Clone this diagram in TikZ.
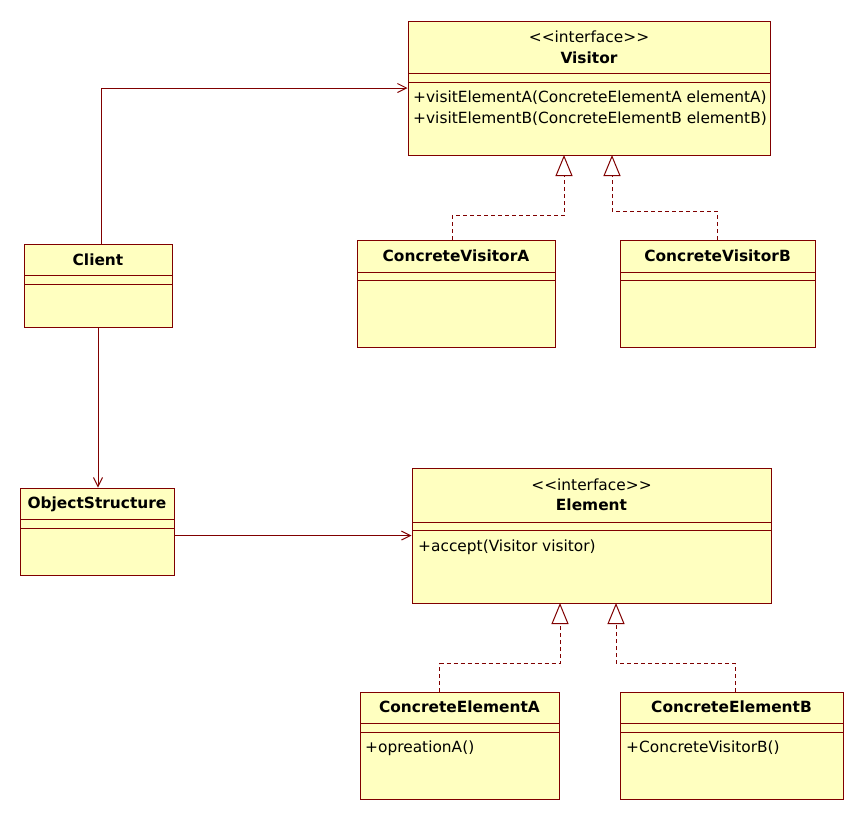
\documentclass[tikz,border=0pt]{standalone}
\usepackage{fontspec}
\setmainfont{DejaVu Sans}
\usetikzlibrary{arrows.meta}
\definecolor{umlred}{RGB}{128,0,0}
\definecolor{umlfill}{RGB}{255,255,192}
\newcommand{\stereo}[1]{\mbox{<}\mbox{<}#1\mbox{>}\mbox{>}}

\begin{document}
\begin{tikzpicture}[x=1pt, y=-1pt,
	every node/.style={font=\fontsize{15.4}{18}\selectfont, inner sep=0pt},
	cls/.style={draw=umlred, fill=umlfill, line width=1pt},
	sep/.style={umlred, line width=1pt},
	assoc/.style={umlred, line width=1pt, -{Straight Barb[length=9pt, width=9pt]}},
	realize/.style={umlred, line width=1pt, dash pattern=on 4pt off 3pt,
		-{Triangle[length=21pt, width=17pt, fill=white]}}]
	\fill [white] (0,0) rectangle (864,820);
	\useasboundingbox (0,0) rectangle (864,820);

	% visitor side
	\node [cls, minimum width=362, minimum height=134] (visitor) at (589,88) {};
	\node (visitorst) at (589,37) {\stereo{interface}};
	\node (visitorname) at (589,58) {\textbf{Visitor}};
	\draw [sep] (408,73) -- (770,73);
	\draw [sep] (408,82) -- (770,82);
	\node [anchor=west] (visitA) at (413,98) {+visitElementA(ConcreteElementA elementA)};
	\node [anchor=west] (visitB) at (413,119) {+visitElementB(ConcreteElementB elementB)};

	\node [cls, minimum width=198, minimum height=107] (cva) at (456,293.5) {};
	\node (cvaname) at (456,256) {\textbf{ConcreteVisitorA}};
	\draw [sep] (357,272) -- (555,272);
	\draw [sep] (357,280) -- (555,280);

	\node [cls, minimum width=195, minimum height=107] (cvb) at (717.5,293.5) {};
	\node (cvbname) at (717.5,256) {\textbf{ConcreteVisitorB}};
	\draw [sep] (620,272) -- (815,272);
	\draw [sep] (620,280) -- (815,280);

	% client and object structure
	\node [cls, minimum width=148, minimum height=83] (client) at (98,285.5) {};
	\node (clientname) at (98,260) {\textbf{Client}};
	\draw [sep] (24,275) -- (172,275);
	\draw [sep] (24,284) -- (172,284);

	\node [cls, minimum width=154, minimum height=87] (objstruct) at (97,531.5) {};
	\node (objstructname) at (97,504) {\textbf{ObjectStructure}};
	\draw [sep] (20,519) -- (174,519);
	\draw [sep] (20,528) -- (174,528);

	% element side
	\node [cls, minimum width=359, minimum height=135] (element) at (591.5,535.5) {};
	\node (elementst) at (591.5,485) {\stereo{interface}};
	\node (elementname) at (591.5,505) {\textbf{Element}};
	\draw [sep] (412,522) -- (771,522);
	\draw [sep] (412,530) -- (771,530);
	\node [anchor=west] (accept) at (418,547) {+accept(Visitor visitor)};

	\node [cls, minimum width=199, minimum height=107] (cea) at (459.5,745.5) {};
	\node (ceaname) at (459.5,707) {\textbf{ConcreteElementA}};
	\draw [sep] (360,723) -- (559,723);
	\draw [sep] (360,732) -- (559,732);
	\node [anchor=west] (opA) at (365,748) {+opreationA()};

	\node [cls, minimum width=223, minimum height=107] (ceb) at (731.5,745.5) {};
	\node (cebname) at (731.5,707) {\textbf{ConcreteElementB}};
	\draw [sep] (620,723) -- (843,723);
	\draw [sep] (620,732) -- (843,732);
	\node [anchor=west] (opB) at (626,748) {+ConcreteVisitorB()};

	\coordinate (VA) at (564,155);
	\coordinate (VB) at (612,155);
	\coordinate (EA) at (560,603);
	\coordinate (EB) at (616,603);

	% associations
	\draw [assoc] (client.north) ++(3,0) |- (visitor.west);
	\draw [assoc] (client.south) -- (client.south |- objstruct.north);
	\draw [assoc] (objstruct.east |- element.west) -- (element.west);

	% realizations
	\draw [realize] (cva.north) ++(-4,0) -- ++(0,-24) -| (VA);
	\draw [realize] (cvb.north) -- ++(0,-28) -| (VB);
	\draw [realize] (cea.north west) ++(80,0) -- ++(0,-28) -| (EA);
	\draw [realize] (ceb.north) ++(4,0) -- ++(0,-28) -| (EB);
\end{tikzpicture}
\end{document}
